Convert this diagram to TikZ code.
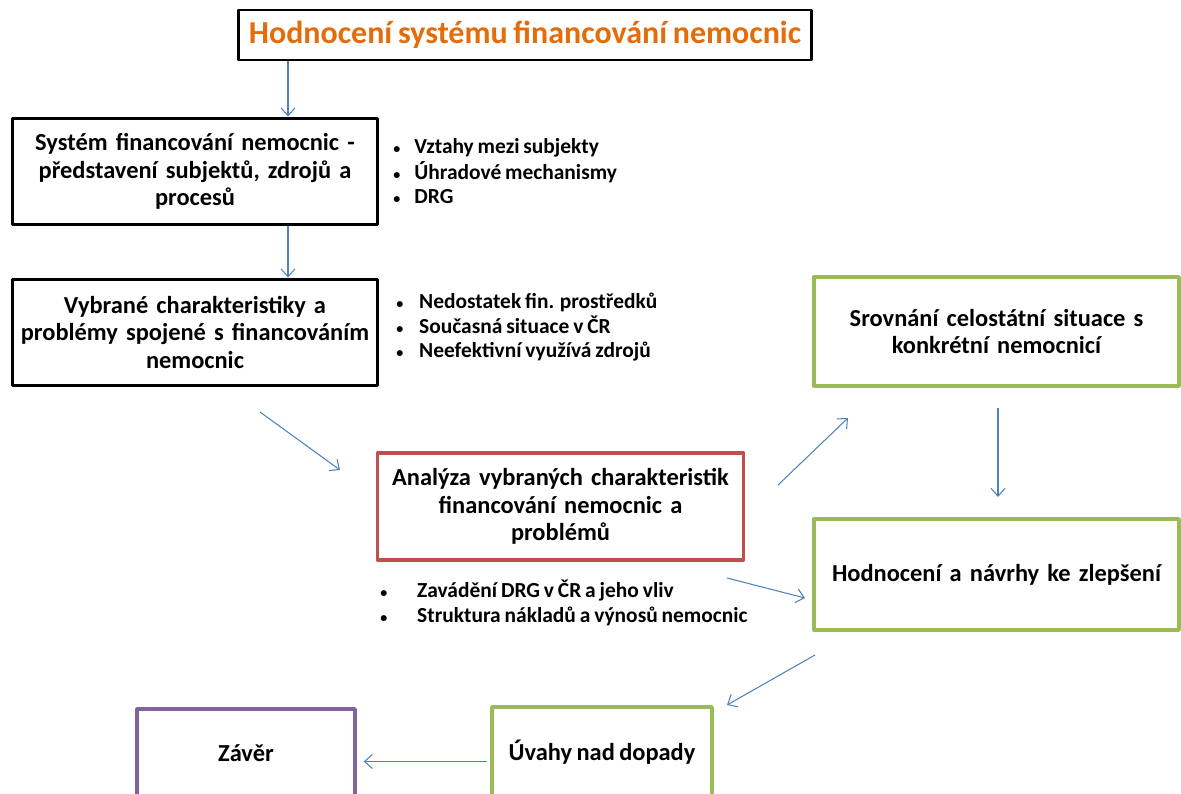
\documentclass[tikz,border=0pt]{standalone}
\usepackage{fontspec}
\setmainfont{Carlito}[WordSpace=0.8]
\usetikzlibrary{arrows.meta,calc}

\definecolor{titleorange}{HTML}{E46C0A}
\definecolor{boxred}{HTML}{C0504D}
\definecolor{boxgreen}{HTML}{9BBB59}
\definecolor{boxpurple}{HTML}{8064A2}
\definecolor{linkblue}{HTML}{4F81BD}

\newcommand{\bul}{{\fontsize{8}{8}\selectfont\textbullet}}

\begin{document}
\begin{tikzpicture}[x=0.02cm,y=-0.02cm,line join=round,
  box/.style={draw,line width=1.7pt,align=center,inner sep=0pt,
    font=\bfseries\fontsize{13.9}{15.5}\selectfont},
  cbox/.style={box,line width=2pt},
  notes/.style={anchor=west,align=left,inner sep=0pt,
    font=\bfseries\fontsize{12.2}{14}\selectfont},
  link/.style={linkblue,line width=0.6pt,-{Straight Barb[length=4.5pt,width=8pt]}}]

% ===== rozmery (px) =====
\def\bw{7.32cm}   % sirka levych boxu
\def\bh{2.14cm}   % vyska boxu

\useasboundingbox (0,0) rectangle (1181,794);

% ===== nadpis =====
\node[draw,line width=1.7pt,minimum width=11.48cm,minimum height=1cm,inner sep=0pt,
  text=titleorange,font=\bfseries\fontsize{18.2}{20}\selectfont] (title) at (525,35)
  {Hodnocení systému financování nemocnic};

% ===== levy sloupec =====
\node[box,minimum width=\bw,minimum height=\bh,text width=7cm] (sys) at (195,171.5)
  {Systém financování nemocnic -\\ představení subjektů, zdrojů a\\ procesů};
\node[box,minimum width=\bw,minimum height=\bh,text width=7cm] (probl) at (195,332.5)
  {Vybrané charakteristiky a\\ problémy spojené s financováním\\ nemocnic};

% odrazky
\node[notes] (sysnotes) at (393,174)
  {\begin{tabular}{@{}l@{\hspace{8pt}}l@{}}
   \bul & Vztahy mezi subjekty\\
   \bul & Úhradové mechanismy\\
   \bul & DRG
   \end{tabular}};
\node[notes] (problnotes) at (396,328)
  {\begin{tabular}{@{}l@{\hspace{9pt}}l@{}}
   \bul & Nedostatek fin. prostředků\\
   \bul & Současná situace v ČR\\
   \bul & Neefektivní využívá zdrojů
   \end{tabular}};

% ===== analyza =====
\node[cbox,draw=boxred,minimum width=\bw,minimum height=\bh,text width=7cm] (anal) at (560.5,506.5)
  {Analýza vybraných charakteristik\\ financování nemocnic a\\ problémů};
\node[notes] (analnotes) at (380,605)
  {\begin{tabular}{@{}l@{\hspace{17pt}}l@{}}
   \bul & Zavádění DRG v ČR a jeho vliv\\
   \bul & Struktura nákladů a výnosů nemocnic
   \end{tabular}};

% ===== pravy sloupec =====
\node[cbox,draw=boxgreen,minimum width=7.3cm,minimum height=2.18cm,text width=7cm] (srov) at (996.5,331.5)
  {Srovnání celostátní situace s\\ konkrétní nemocnicí};
\node[cbox,draw=boxgreen,minimum width=7.3cm,minimum height=2.22cm,text width=7cm] (hodn) at (996.5,574.5)
  {Hodnocení a návrhy ke zlepšení};

% ===== spodni rada (preteka pres okraj) =====
\node[cbox,draw=boxgreen,minimum width=4.4cm,minimum height=1.82cm] (uvahy) at (602,752.5)
  {Úvahy nad dopady};
\node[cbox,draw=boxpurple,minimum width=4.36cm,minimum height=1.78cm] (zaver) at (246,753.5)
  {Závěr};

% ===== sipky =====
\coordinate (ax) at (288,0);
\draw[link] (title.south -| ax) -- (sys.north -| ax);
\draw[link] (sys.south -| ax) -- (probl.north -| ax);

\coordinate (p1) at (260,412);  \coordinate (p2) at (340,470);
\coordinate (a1) at (778,485);  \coordinate (a2) at (848,418);
\coordinate (s1) at (998,408);  \coordinate (s2) at (998,497);
\coordinate (n1) at (727,578);  \coordinate (n2) at (805,598);
\coordinate (h1) at (815,655);  \coordinate (h2) at (727,705);
\draw[link] (p1) -- (p2);
\draw[link] (a1) -- (a2);
\draw[link] (s1) -- (s2);
\draw[link] (n1) -- (n2);
\draw[link] (h1) -- (h2);
\coordinate (u1) at ($(uvahy.west)+(-3,9)$);
\draw[link] (u1) -- ($(u1 -| zaver.east)+(7,0)$);

\end{tikzpicture}
\end{document}
